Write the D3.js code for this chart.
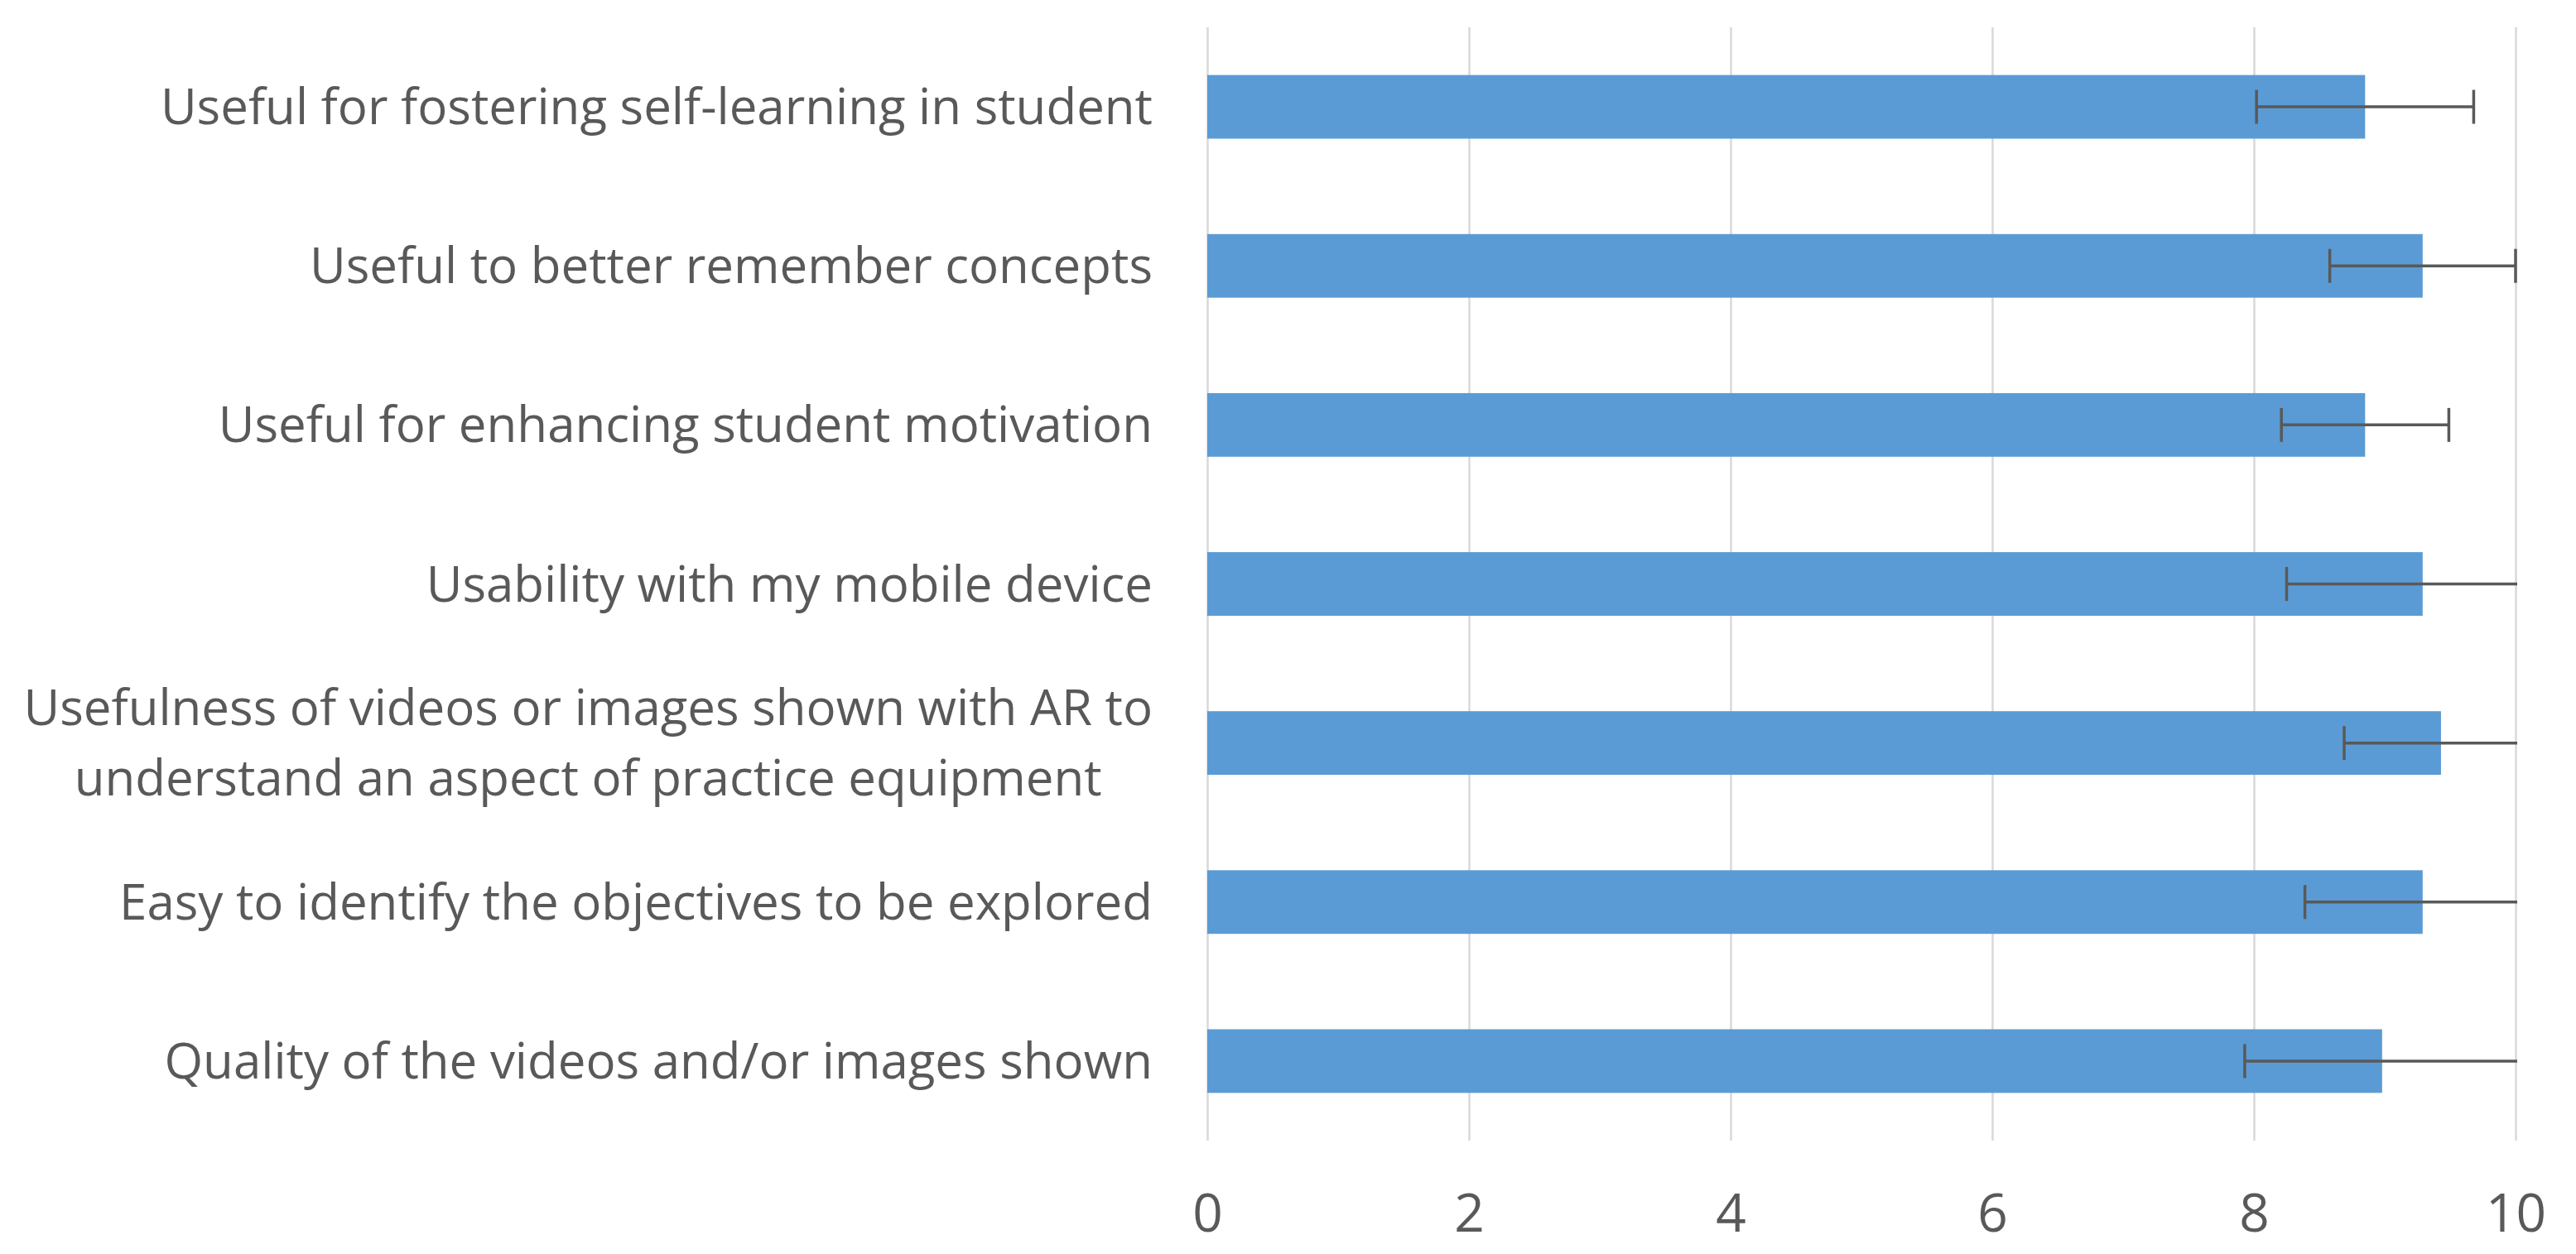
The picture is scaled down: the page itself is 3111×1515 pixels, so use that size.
<!DOCTYPE html>
<html>
<head>
<meta charset="utf-8">
<style>
body { margin: 0; background: #fff; }
.grid line { stroke: #d9d9d9; stroke-width: 2.5; }
.grid path { display: none; }
.axis-x path, .axis-x line { display: none; }
.axis-x text { fill: #595959; font-size: 64px; }
.cat-label { fill: #595959; font-size: 60px; }
.err { stroke: #595959; stroke-width: 3.5; fill: none; }
text { font-family: "Open Sans", sans-serif; }
</style>
</head>
<body>
<svg id="chart" width="3111" height="1515"></svg>
<script src="https://d3js.org/d3.v7.min.js"></script>
<script>

// categories, top to bottom
var labels = [
  "Useful for fostering self-learning in student",
  "Useful to better remember concepts",
  "Useful for enhancing student motivation",
  "Usability with my mobile device",
  "Usefulness of videos or images shown with AR to\nunderstand an aspect of practice equipment",
  "Easy to identify the objectives to be explored",
  "Quality of the videos and/or images shown"
];
var means = [8.85, 9.29, 8.85, 9.29, 9.43, 9.29, 8.98];
var errors = [0.83, 0.71, 0.64, 1.04, 0.74, 0.90, 1.05];
var xTicks = [0, 2, 4, 6, 8, 10];

var data = labels.map(function(d, i) {
  return { label: d, mean: means[i], err: errors[i] };
});

var svg = d3.select("#chart"),
  margin = { top: 33, right: 73, bottom: 137, left: 1458 },
  width = +svg.attr("width") - margin.left - margin.right,
  height = +svg.attr("height") - margin.top - margin.bottom;

var x = d3.scaleLinear().domain([0, 10]).range([0, width]);
var y = d3.scaleBand().domain(labels).range([0, height])
  .paddingInner(0.6).paddingOuter(0.3);

var g = svg.append("g")
  .attr("transform", "translate(" + margin.left + "," + margin.top + ")");

// vertical gridlines
g.append("g")
  .attr("class", "grid")
  .attr("transform", "translate(0," + height + ")")
  .call(d3.axisBottom(x).tickValues(xTicks).tickSize(-height).tickFormat(""));

// tick labels
g.append("g")
  .attr("class", "axis-x")
  .attr("transform", "translate(0," + height + ")")
  .call(d3.axisBottom(x).tickValues(xTicks).tickSize(0))
  .selectAll("text").attr("dy", "0").attr("y", 110);

// bars
g.selectAll(".bar")
  .data(data).enter()
  .append("rect")
  .attr("class", "bar")
  .attr("x", x(0))
  .attr("y", function(d) { return y(d.label); })
  .attr("width", function(d) { return x(d.mean) - x(0); })
  .attr("height", y.bandwidth())
  .attr("fill", "#5b9bd5");

// error bars, clipped at the axis max like the original
g.append("clipPath").attr("id", "clip")
  .append("rect")
  .attr("x", -5).attr("y", -5)
  .attr("width", width + 7).attr("height", height + 10);

var errG = g.append("g").attr("clip-path", "url(#clip)");
var capH = 41;

var eb = errG.selectAll(".eb")
  .data(data).enter()
  .append("g")
  .attr("class", "eb")
  .attr("transform", function(d) { return "translate(0," + (y(d.label) + y.bandwidth() / 2) + ")"; });

eb.append("line").attr("class", "err")
  .attr("x1", function(d) { return x(d.mean - d.err); })
  .attr("x2", function(d) { return x(d.mean + d.err); });

eb.append("line").attr("class", "err")
  .attr("x1", function(d) { return x(d.mean - d.err); })
  .attr("x2", function(d) { return x(d.mean - d.err); })
  .attr("y1", -capH / 2).attr("y2", capH / 2);

eb.append("line").attr("class", "err")
  .attr("x1", function(d) { return x(d.mean + d.err); })
  .attr("x2", function(d) { return x(d.mean + d.err); })
  .attr("y1", -capH / 2).attr("y2", capH / 2);

// category labels (multi-line ones are centred on their widest line)
var labelRight = -66, lineH = 85;

labels.forEach(function(lbl) {
  var lines = lbl.split("\n");
  var cy = y(lbl) + y.bandwidth() / 2;
  var t = g.append("text")
    .attr("class", "cat-label")
    .attr("text-anchor", lines.length > 1 ? "middle" : "end");
  lines.forEach(function(line, i) {
    t.append("tspan")
      .attr("x", labelRight)
      .attr("y", cy + (i - (lines.length - 1) / 2) * lineH)
      .attr("dy", "0.35em")
      .text(line);
  });
  if (lines.length > 1) {
    var w = t.node().getBBox().width;
    t.selectAll("tspan").attr("x", labelRight - w / 2);
  }
});

</script>
</body>
</html>
